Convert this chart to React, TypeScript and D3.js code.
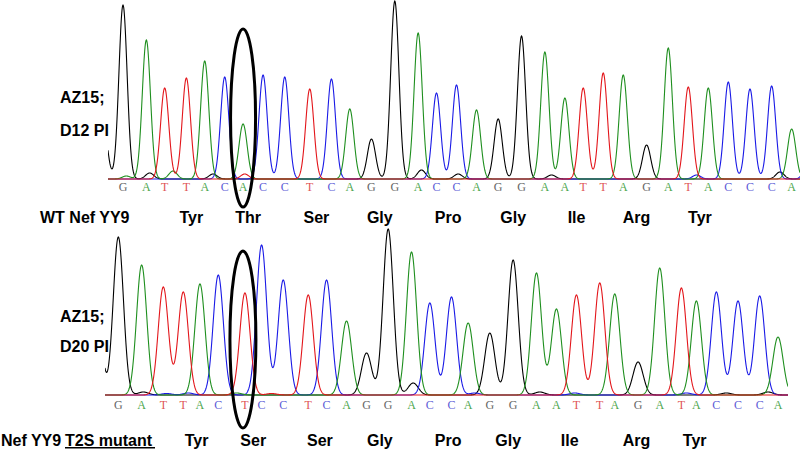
import React from "react";
import * as d3 from "d3";

// ---- Panel 1: AZ15; D12 PI (wild type) ----
const topBases = ["G","A","T","T","A","C","A","C","C","T","C","A","G","G","A","C","C","A","G","G","A","A","T","T","A","G","A","T","A","C","C","C","A"];
const topScans = [9,23,34,47,58,70,81,93,106,121,134,145,158,172,186,197,209,221,234,248,262,274,285,297,309,323,336,348,360,372,385,398,410];
const topHeights = [1740,1390,910,1010,1180,1020,550,1040,1020,900,1000,700,400,1780,1460,860,940,690,600,1430,1270,810,910,1060,1040,340,1310,920,910,970,900,930,500];
const topMinorBases = ["G","G","A","G","T","A","G","G","G","G","C","C"];
const topMinorScans = [-3,25,39,63,82,11,188,210,266,403,353,420];
const topMinorHeights = [600,60,80,50,50,30,90,50,40,70,40,200];
const topAminoAcids = ["Tyr","Thr","Ser","Gly","Pro","Gly","Ile","Arg","Tyr"];
const topAminoScans = [50,84,125,163,204,243,281,317,355];

// ---- Panel 2: AZ15; D20 PI (T2S mutant) ----
const botBases = ["G","A","T","T","A","C","T","C","C","T","C","A","G","G","A","C","C","A","G","G","A","A","T","T","A","G","A","T","A","C","C","C","A"];
const botScans = [8,22,35,47,57,68,84,94,107,122,133,145,157,170,184,195,208,218,231,245,259,271,283,297,306,320,333,346,355,367,380,393,404];
const botHeights = [1580,1300,1080,1030,1110,1200,1020,1500,1150,1000,1150,740,420,1660,1430,920,980,720,620,1350,1220,860,1000,1120,1010,330,1270,1070,940,1030,940,990,580];
const botMinorBases = ["G","G","C","C","A","T","G","C","G","C","C","G","G"];
const botMinorScans = [-6,23,37,50,79,100,185,222,261,282,349,373,398];
const botMinorHeights = [1500,30,15,20,20,15,120,20,30,20,20,20,30];
const botAminoAcids = ["Tyr","Ser","Ser","Gly","Pro","Gly","Ile","Arg","Tyr"];
const botAminoScans = [55,89,129,165,206,242,279,319,354];

const channelOrder = ["G", "C", "A", "T"];
const traceColor: Record<string, string> = { A: "#1f8f1f", C: "#1a1ae6", G: "#000000", T: "#e3161b" };
const letterColor: Record<string, string> = { A: "#4da64d", C: "#5b5bd6", G: "#666666", T: "#e05555" };

type TraceProps = {
  bases: string[]; scans: number[]; heights: number[];
  mBases: string[]; mScans: number[]; mHeights: number[];
  x: d3.ScaleLinear<number, number>; y: d3.ScaleLinear<number, number>;
  sigma: number;
};

function Traces({ bases, scans, heights, mBases, mScans, mHeights, x, y, sigma }: TraceProps) {
  const [d0, d1] = x.domain();
  const samples = d3.range(d0, d1 + 0.001, 0.2);
  const line = d3.line<[number, number]>().x((d) => x(d[0])).y((d) => y(d[1]));
  return (
    <g>
      {channelOrder.map((ch) => {
        const peaks: { s: number; h: number }[] = [];
        bases.forEach((b, i) => { if (b === ch) peaks.push({ s: scans[i], h: heights[i] }); });
        mBases.forEach((b, i) => { if (b === ch) peaks.push({ s: mScans[i], h: mHeights[i] }); });
        const pts: [number, number][] = samples.map((s) => {
          let v = 0;
          for (const p of peaks) v += p.h * Math.exp(-((s - p.s) ** 2) / (2 * sigma * sigma));
          return [s, v];
        });
        return <path key={ch} d={line(pts) || ""} fill="none" stroke={traceColor[ch]} strokeWidth={1.1} />;
      })}
    </g>
  );
}

export default function App() {
  const topX = d3.scaleLinear().domain([0, 415]).range([108, 800]);
  const topY = d3.scaleLinear().domain([0, 1790]).range([179, 0]);
  const botX = d3.scaleLinear().domain([0, 410]).range([105, 788]);
  const botY = d3.scaleLinear().domain([0, 1790]).range([395, 216]);
  const bold = { fontFamily: "'Liberation Sans', Arial, sans-serif", fontWeight: 700, fontSize: 16, fill: "#000" } as const;
  const letterFont = { fontFamily: "'Liberation Serif', serif", fontSize: 12, textAnchor: "middle" } as const;
  return (
    <svg width={800} height={450} style={{ position: "absolute", left: 0, top: 0, background: "#fff" }}>
      <rect width={800} height={450} fill="#fff" />
      <defs>
        <clipPath id="clipTop"><rect x={108} y={0} width={692} height={182} /></clipPath>
        <clipPath id="clipBot"><rect x={105} y={210} width={683} height={188} /></clipPath>
      </defs>

      <g clipPath="url(#clipTop)">
        <Traces bases={topBases} scans={topScans} heights={topHeights} mBases={topMinorBases} mScans={topMinorScans} mHeights={topMinorHeights} x={topX} y={topY} sigma={2.46} />
      </g>
      {topBases.map((b, i) => (
        <text key={`tb${i}`} x={topX(topScans[i])} y={191} {...letterFont} fill={letterColor[b]}>{b}</text>
      ))}

      <g clipPath="url(#clipBot)">
        <Traces bases={botBases} scans={botScans} heights={botHeights} mBases={botMinorBases} mScans={botMinorScans} mHeights={botMinorHeights} x={botX} y={botY} sigma={3.06} />
      </g>
      {botBases.map((b, i) => (
        <text key={`bb${i}`} x={botX(botScans[i])} y={409} {...letterFont} fill={letterColor[b]}>{b}</text>
      ))}

      {/* mutation ellipses */}
      <ellipse cx={topX(topScans[6])} cy={118} rx={12.5} ry={89} fill="none" stroke="#000" strokeWidth={3} />
      <ellipse cx={botX(botScans[6]) - 2} cy={339.5} rx={13} ry={88.5} fill="none" stroke="#000" strokeWidth={3} />

      {/* side labels */}
      <text x={60} y={103} {...bold}>AZ15;</text>
      <text x={60} y={136} {...bold}>D12 PI</text>
      <text x={60} y={322} {...bold}>AZ15;</text>
      <text x={60} y={352} {...bold}>D20 PI</text>

      {/* amino acid rows */}
      <text x={40} y={223} {...bold}>WT Nef YY9</text>
      {topAminoAcids.map((a, i) => (
        <text key={`ta${i}`} x={topX(topAminoScans[i])} y={223} textAnchor="middle" {...bold}>{a}</text>
      ))}
      <text x={1} y={446} {...bold}>Nef YY9</text>
      <text x={65} y={446} {...bold}>T2S mutant</text>
      <line x1={65} x2={155} y1={447.8} y2={447.8} stroke="#000" strokeWidth={1.6} />
      {botAminoAcids.map((a, i) => (
        <text key={`ba${i}`} x={botX(botAminoScans[i])} y={446} textAnchor="middle" {...bold}>{a}</text>
      ))}
    </svg>
  );
}
